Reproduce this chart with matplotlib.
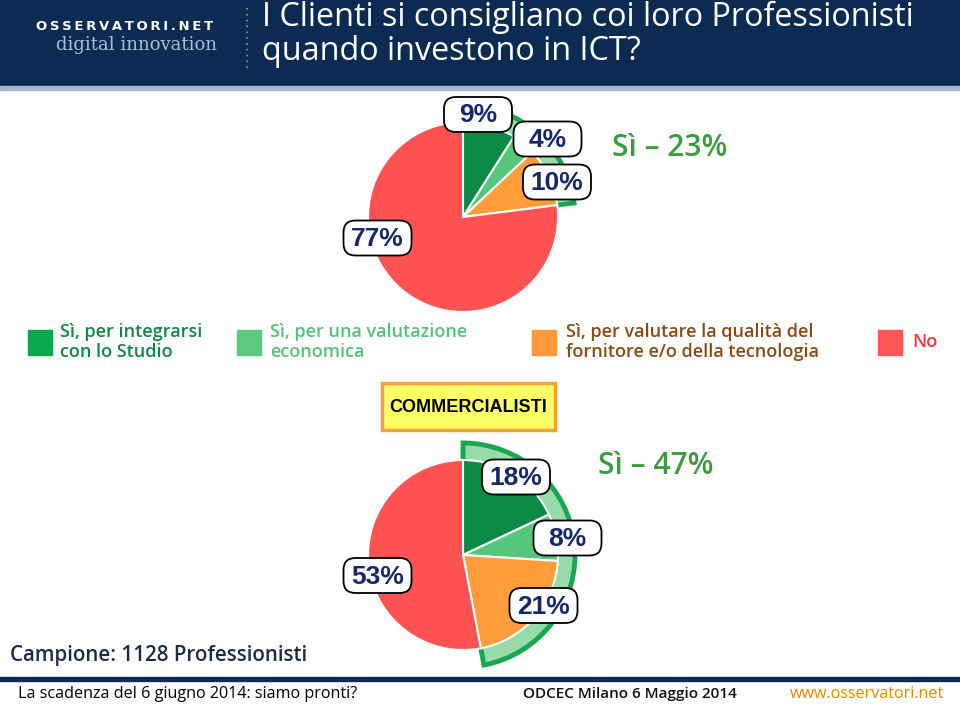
import matplotlib
matplotlib.use('Agg')
import matplotlib.pyplot as plt
from matplotlib.patches import Rectangle, FancyBboxPatch

# Data
categories = ['Sì, per integrarsi\ncon lo Studio', 'Sì, per una valutazione\neconomica',
              'Sì, per valutare la qualità del\nfornitore e/o della tecnologia', 'No']
all_values = [9, 4, 10, 77]
comm_values = [18, 8, 21, 53]
all_yes = sum(all_values[:3])
comm_yes = sum(comm_values[:3])

pie_colors = ['#0a8a45', '#55c77b', '#ff9d3b', '#ff5252']
legend_colors = ['#0aa84f', '#5cc97e', '#ff9a3c', '#ff5555']
legend_text_colors = ['#128645', '#58c07a', '#8a4a12', '#e83a3a']
ring_fill = '#98dbab'
ring_edge = '#1aa64e'
navy = '#0c2b52'
label_navy = '#16286a'
yes_green = '#3d9c3f'

H = 707
sans = ['Open Sans', 'DejaVu Sans']

fig = plt.figure(figsize=(9.6, 7.07), dpi=100)
ax = fig.add_axes([0, 0, 1, 1])


def Y(p):
    return H - p


def draw_pie(values, yes_total, cx, cy):
    # outer ring around the "Sì" slices
    ax.pie([yes_total, 100 - yes_total], radius=112, center=(cx, Y(cy)),
           startangle=90, counterclock=False, colors=[ring_fill, 'none'],
           wedgeprops=dict(linewidth=3.5, edgecolor=ring_edge))
    ax.patches[-1].set_edgecolor('none')
    ax.pie(values, radius=95, center=(cx, Y(cy)), startangle=90, counterclock=False,
           colors=pie_colors, wedgeprops=dict(linewidth=1.5, edgecolor='white'))


def pct_label(txt, x, y):
    ax.add_patch(FancyBboxPatch((x - 34 + 9, Y(y) - 17.5 + 9), 68 - 18, 35 - 18,
                                boxstyle='round,pad=9,rounding_size=12',
                                fc='white', ec='black', lw=1.3, zorder=9))
    ax.text(x, Y(y) - 1, txt, ha='center', va='center', fontsize=19, fontweight='bold',
            color=label_navy, family='Liberation Sans', zorder=10)


# header
ax.add_patch(Rectangle((0, Y(86)), 960, 86, color=navy, zorder=1))
ax.add_patch(Rectangle((0, Y(90)), 960, 4, color='#a3b6c9', zorder=1))
ax.text(36, Y(26), '\u2009'.join('OSSERVATORI.NET'), fontsize=9.5, fontweight='bold',
        color='white', va='center', ha='left', family='DejaVu Sans', zorder=2)
ax.text(56, Y(45), 'digital innovation', fontsize=13, color='#a9c0d8',
        va='center', ha='left', family='DejaVu Serif', zorder=2)
ax.plot([247, 247], [Y(8), Y(72)], color='#8796ac', lw=1.2, ls=(0, (1, 2.5)), zorder=2)
ax.text(262, Y(17), 'I Clienti si consigliano coi loro Professionisti', fontsize=23.3,
        color='white', va='center', ha='left', family=sans, zorder=2)
ax.text(262, Y(51), 'quando investono in ICT?', fontsize=23.3,
        color='white', va='center', ha='left', family=sans, zorder=2)

# pies
draw_pie(all_values, all_yes, 463, 217)
draw_pie(comm_values, comm_yes, 463, 555)

top_pos = [(478, 114.5), (547.5, 139), (557, 182), (377.5, 238)]
bot_pos = [(516, 477), (567.5, 538), (543.5, 605.5), (377.5, 575.5)]
for v, (x, y) in zip(all_values, top_pos):
    pct_label(f'{v}%', x, y)
for v, (x, y) in zip(comm_values, bot_pos):
    pct_label(f'{v}%', x, y)

ax.text(612, Y(148), f'Sì – {all_yes}%', fontsize=21.5, color=yes_green,
        fontweight='semibold', va='center', ha='left', family=sans, zorder=3)
ax.text(598, Y(466), f'Sì – {comm_yes}%', fontsize=21.5, color=yes_green,
        fontweight='semibold', va='center', ha='left', family=sans, zorder=3)

# legend
sq_x = [28, 237, 532, 878]
txt_x = [60, 270, 566, 912]
for i in range(4):
    ax.add_patch(Rectangle((sq_x[i], Y(355)), 24, 25, color=legend_colors[i], zorder=3))
    ax.text(txt_x[i], Y(342), categories[i], fontsize=13, fontweight='semibold',
            color=legend_text_colors[i], va='center', ha='left', linespacing=1.2,
            family=sans, zorder=3)

# segment box
ax.add_patch(Rectangle((382, Y(430)), 173, 47, fc='#ffff66', ec='#f2a43a', lw=2.5, zorder=3))
ax.text(468, Y(407), 'COMMERCIALISTI', fontsize=13, fontweight='bold', color='black',
        va='center', ha='center', family='Liberation Sans', zorder=4)

# footer
ax.text(10, Y(656), 'Campione: 1128 Professionisti', fontsize=14.8, color='#1c2c48',
        fontweight='semibold', va='center', ha='left', family=sans, zorder=4)
ax.add_patch(Rectangle((0, Y(681)), 960, 4, color=navy, zorder=4))
ax.text(18, Y(694), 'La scadenza del 6 giugno 2014: siamo pronti?', fontsize=11.6,
        color='black', va='center', ha='left', family=sans, zorder=4)
ax.text(523, Y(694), 'ODCEC Milano 6 Maggio 2014', fontsize=11, fontweight='semibold',
        color='#111111', va='center', ha='left', family=sans, zorder=4)
ax.text(790, Y(694), 'www.osservatori.net', fontsize=11.6, color='#e38b00',
        va='center', ha='left', family=sans, zorder=4)

ax.set_xlim(0, 960)
ax.set_ylim(0, H)
ax.set_aspect('auto')
ax.axis('off')
fig.savefig('out.png', dpi=100)
